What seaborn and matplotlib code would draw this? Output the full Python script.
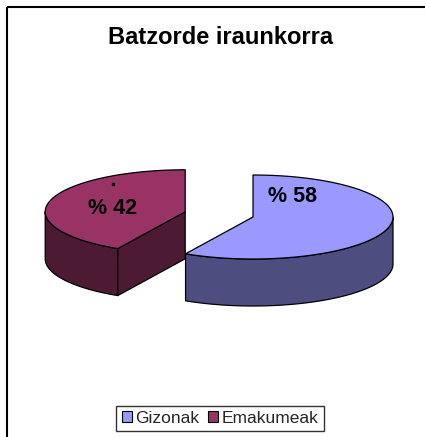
import numpy as np
import seaborn as sns
import matplotlib.pyplot as plt
from matplotlib.patches import Polygon, Rectangle, Patch

sns.set_style("white")
plt.rcParams['font.family'] = ['Liberation Sans', 'DejaVu Sans']

# Data
labels = ["Gizonak", "Emakumeak"]
values = [58, 42]
top_colors = ["#9999FF", "#993366"]
side_colors = ["#4D4D80", "#4D1A33"]
explode = [0, 70]

# geometry of the 3d pie (pixel units)
CX, CY = 253, 217
A, B = 140, 42
DEPTH = 47
label_pos = [(293, 196), (113, 209)]

fig = plt.figure(figsize=(4.25, 4.37), dpi=100)
ax = fig.add_axes([0, 0, 1, 1])
ax.set_xlim(0, 425)
ax.set_ylim(437, 0)
ax.axis('off')


def ell(cx, cy, t, dy=0):
    return np.column_stack([cx + A * np.sin(t), cy - B * np.cos(t) + dy])


fracs = np.array(values) / sum(values)
ends = np.cumsum(fracs) * 2 * np.pi
starts = ends - fracs * 2 * np.pi

for i in range(len(values)):
    t1, t2 = starts[i], ends[i]
    mid = (t1 + t2) / 2
    cx = CX + explode[i] * np.sin(mid)
    cy = CY - explode[i] * (B / A) * np.cos(mid)
    kw = dict(edgecolor='black', linewidth=0.9, joinstyle='round')

    # outer curved wall (front half only)
    w1, w2 = max(t1, np.pi / 2), min(t2, 3 * np.pi / 2)
    if w2 > w1:
        t = np.linspace(w1, w2, 80)
        pts = np.vstack([ell(cx, cy, t), ell(cx, cy, t[::-1], DEPTH)])
        ax.add_patch(Polygon(pts, closed=True, facecolor=side_colors[i], **kw))

    # radial walls
    for t, vis in [(t1, np.sin(t1) < -1e-6), (t2, np.sin(t2) > 1e-6)]:
        if vis:
            p = ell(cx, cy, np.array([t]))[0]
            pts = [(cx, cy), p, (p[0], p[1] + DEPTH), (cx, cy + DEPTH)]
            ax.add_patch(Polygon(pts, closed=True, facecolor=side_colors[i], **kw))

    # top face
    t = np.linspace(t1, t2, 200)
    pts = np.vstack([[cx, cy], ell(cx, cy, t)])
    ax.add_patch(Polygon(pts, closed=True, facecolor=top_colors[i], **kw))

    ax.text(label_pos[i][0], label_pos[i][1], f"% {values[i]}", ha='center',
            va='center', fontsize=15.5, fontweight='bold', color='black')

# small stray marker on the second slice
ax.plot([113], [184], marker='s', markersize=1.6, color='black')

ax.text(221, 37, "Batzorde iraunkorra", ha='center', va='center',
        fontsize=17, fontweight='bold', color='black')

# outer chart frame
ax.add_patch(Rectangle((7, 7), 440, 450, fill=False, edgecolor='black',
                       linewidth=1.5))

handles = [Patch(facecolor=c, edgecolor='black', linewidth=0.8) for c in top_colors]
leg = fig.legend(handles, labels, loc='center',
                 bbox_to_anchor=(220 / 425, 1 - 418.5 / 437), ncol=2,
                 fontsize=12.5, frameon=True, fancybox=False, edgecolor='black',
                 handlelength=0.6, handleheight=0.6, handletextpad=0.2,
                 columnspacing=0.45, borderpad=0.3, borderaxespad=0)
leg.get_frame().set_linewidth(1)

fig.savefig("out.png", dpi=100, facecolor='white')
